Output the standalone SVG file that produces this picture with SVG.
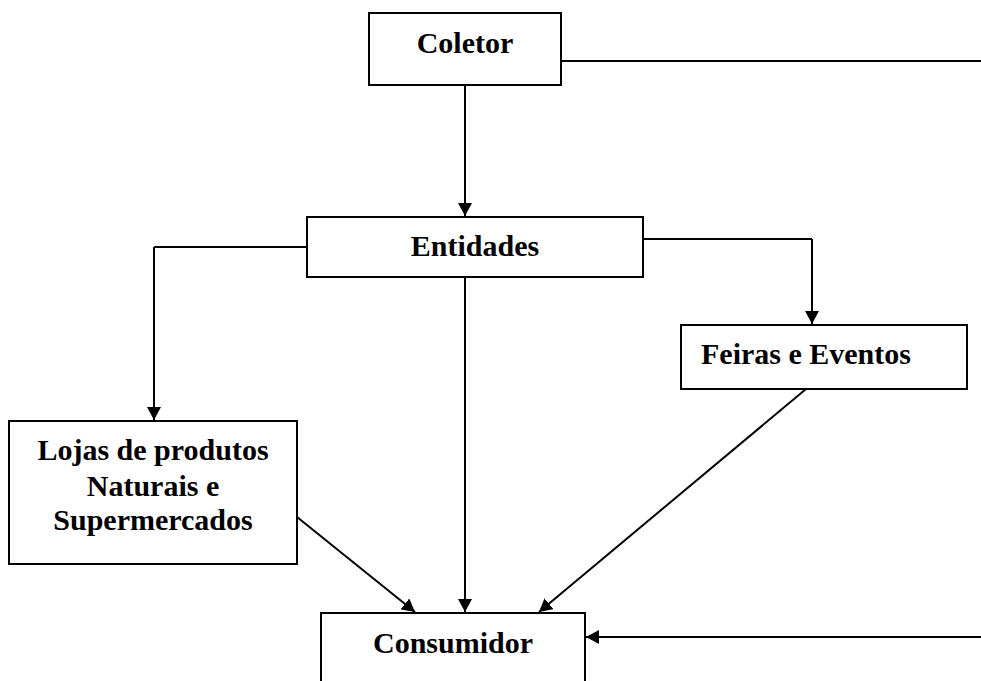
<svg xmlns="http://www.w3.org/2000/svg" width="981" height="681" viewBox="0 0 981 681">
<defs>
<marker id="ah" markerWidth="13" markerHeight="14" viewBox="0 0 13 14" refX="13" refY="7" orient="auto" markerUnits="userSpaceOnUse">
<path d="M0,0 L13,7 L0,14 Z" fill="#000"/>
</marker>
<style>
.box{fill:#fff;stroke:#000;stroke-width:2}
.lbl{font-family:"Liberation Serif","Times New Roman",serif;font-weight:bold;font-size:30px;fill:#000}
.c{text-anchor:middle}
.ln{fill:none;stroke:#000;stroke-width:2}
.ar{fill:none;stroke:#000;stroke-width:2;marker-end:url(#ah)}
</style>
</defs>
<rect width="981" height="681" fill="#fff"/>
<g id="connectors">
<line class="ln" x1="561" y1="61" x2="981" y2="61"/>
<line class="ar" x1="465" y1="85" x2="465" y2="216"/>
<polyline class="ln" points="307,247 154,247"/>
<line class="ar" x1="154" y1="247" x2="154" y2="420"/>
<polyline class="ln" points="643,239 812,239"/>
<line class="ar" x1="812" y1="239" x2="812" y2="324"/>
<line class="ar" x1="465" y1="277" x2="465" y2="612"/>
<line class="ar" x1="297" y1="517" x2="415" y2="612"/>
<line class="ar" x1="806" y1="389" x2="539" y2="612"/>
<line class="ar" x1="981" y1="637" x2="586" y2="637"/>
</g>
<g id="coletor">
<rect class="box" x="369" y="13" width="192" height="72"/>
<text class="lbl c" x="465" y="53">Coletor</text>
</g>
<g id="entidades">
<rect class="box" x="307" y="217" width="336" height="60"/>
<text class="lbl c" x="475" y="256">Entidades</text>
</g>
<g id="feiras">
<rect class="box" x="681" y="325" width="286" height="64"/>
<text class="lbl" x="701" y="364">Feiras e Eventos</text>
</g>
<g id="lojas">
<rect class="box" x="9" y="421" width="288" height="143"/>
<text class="lbl c" x="153" y="460">Lojas de produtos</text>
<text class="lbl c" x="153" y="496">Naturais e</text>
<text class="lbl c" x="153" y="530">Supermercados</text>
</g>
<g id="consumidor">
<rect class="box" x="321" y="613" width="264" height="80"/>
<text class="lbl c" x="453" y="653">Consumidor</text>
</g>
</svg>
